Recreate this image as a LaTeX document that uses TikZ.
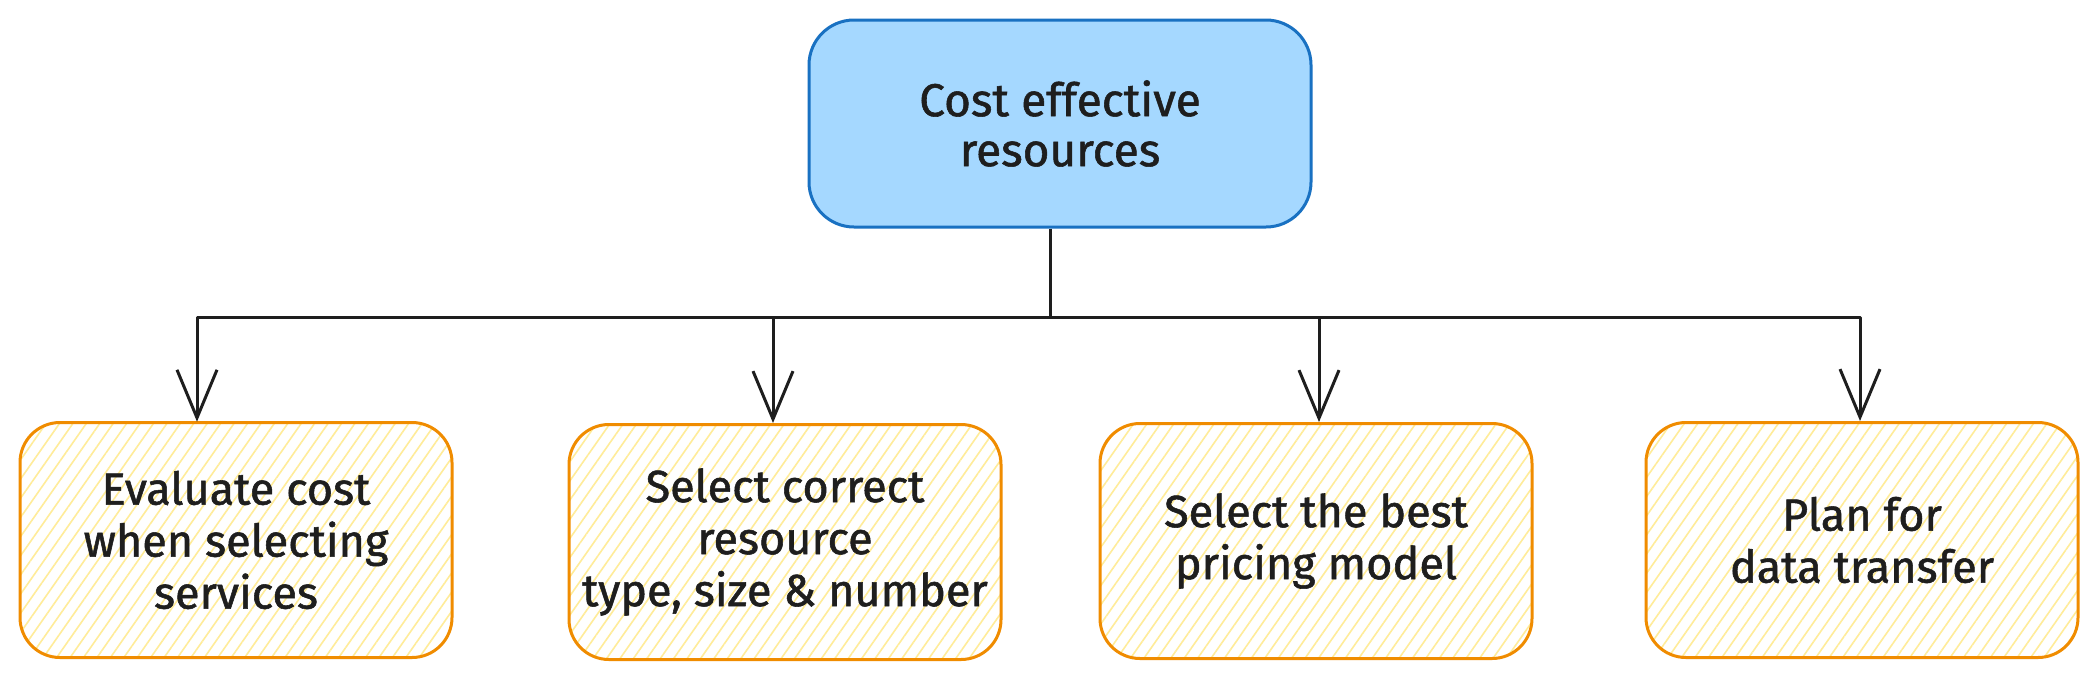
\documentclass[tikz,border=0pt]{standalone}
\usepackage{fontspec}
\setmainfont{Fira Sans}
\newfontfamily\handfont{Fira Sans}[FakeBold=1.2]
\usetikzlibrary{arrows.meta,patterns.meta,calc}
\definecolor{topfill}{HTML}{A5D8FF}
\definecolor{topdraw}{HTML}{1971C2}
\definecolor{orgdraw}{HTML}{F08C00}
\definecolor{hatch}{HTML}{FFEC99}
\definecolor{ink}{HTML}{1E1E1E}
\tikzset{
  topbox/.style={draw=topdraw, fill=topfill, line width=3pt, rounded corners=45pt,
    minimum width=502pt, minimum height=207pt, align=center, text=ink,
    font=\handfont\fontsize{46}{50}\selectfont},
  leafbox/.style={draw=orgdraw, line width=3pt, rounded corners=40pt,
    pattern={Lines[angle=55,distance=11pt,line width=1.6pt]}, pattern color=hatch,
    minimum width=432pt, minimum height=235pt, align=center, text=ink,
    font=\handfont\fontsize{45}{52}\selectfont},
  conn/.style={draw=ink, line width=3pt, line join=round},
  arr/.style={conn, -{Straight Barb[length=48pt,width=40pt,line width=3pt]}}
}
\begin{document}
\begin{tikzpicture}[x=1pt,y=-1pt]
\useasboundingbox[fill=white] (0,0) rectangle (2098,681);
\node[topbox] (top) at (1060,123.5) {Cost effective\\resources};
\node[leafbox] (b1) at (236,540) {Evaluate cost\\when selecting\\services};
\node[leafbox] (b2) at (785,542) {Select correct\\resource\\type, size \& number};
\node[leafbox] (b3) at (1316,541) {Select the best\\pricing model};
\node[leafbox] (b4) at (1862,540) {Plan for\\data transfer};
\coordinate (bus) at (1050,317);
\draw[conn] ([xshift=-10pt]top.south) -- (bus);
\draw[arr] (bus) -| ([xshift=-39pt]b1.north);
\draw[arr] (bus) -| ([xshift=-12pt]b2.north);
\draw[arr] (bus) -| ([xshift=3pt]b3.north);
\draw[arr] (bus) -| ([xshift=-2pt]b4.north);
\end{tikzpicture}
\end{document}
